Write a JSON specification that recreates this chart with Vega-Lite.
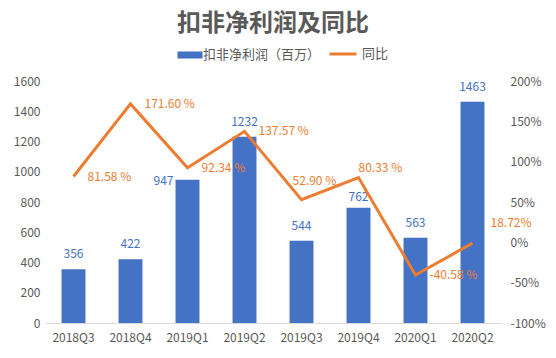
{
  "$schema": "https://vega.github.io/schema/vega-lite/v6.json",
  "width": 456,
  "height": 242,
  "autosize": {"type": "none"},
  "padding": {"left": 45, "top": 81, "right": 55, "bottom": 35},
  "background": "white",
  "config": {
    "font": "Noto Sans CJK SC",
    "view": {"stroke": null},
    "axis": {"labelOverlap": false}
  },
  "title": {
    "text": "扣非净利润及同比",
    "fontSize": 24,
    "fontWeight": "bold",
    "color": "#595959",
    "anchor": "middle",
    "frame": "group",
    "offset": 3
  },
  "data": {
    "values": [
      {"q": "2018Q3", "profit": 356, "yoy": 81.58, "label": "81.58 %", "s1": "扣非净利润（百万）", "s2": "同比"},
      {"q": "2018Q4", "profit": 422, "yoy": 171.60, "label": "171.60 %", "s1": "扣非净利润（百万）", "s2": "同比"},
      {"q": "2019Q1", "profit": 947, "yoy": 92.34, "label": "92.34 %", "s1": "扣非净利润（百万）", "s2": "同比"},
      {"q": "2019Q2", "profit": 1232, "yoy": 137.57, "label": "137.57 %", "s1": "扣非净利润（百万）", "s2": "同比"},
      {"q": "2019Q3", "profit": 544, "yoy": 52.90, "label": "52.90 %", "s1": "扣非净利润（百万）", "s2": "同比"},
      {"q": "2019Q4", "profit": 762, "yoy": 80.33, "label": "80.33 %", "s1": "扣非净利润（百万）", "s2": "同比"},
      {"q": "2020Q1", "profit": 563, "yoy": -40.58, "label": "-40.58 %", "s1": "扣非净利润（百万）", "s2": "同比"},
      {"q": "2020Q2", "profit": 1463, "yoy": -1, "label": "18.72%", "s1": "扣非净利润（百万）", "s2": "同比"}
    ]
  },
  "encoding": {
    "x": {
      "field": "q",
      "type": "nominal",
      "sort": null,
      "scale": {"paddingInner": 0.58, "paddingOuter": 0.29},
      "axis": {
        "title": null,
        "labelAngle": 0,
        "labelFontSize": 12,
        "labelColor": "#595959",
        "labelPadding": 9,
        "ticks": false,
        "domainColor": "#d9d9d9",
        "domainWidth": 1
      }
    }
  },
  "layer": [
    {
      "encoding": {
        "y": {
          "field": "profit",
          "type": "quantitative",
          "scale": {"domain": [0, 1600], "nice": false},
          "axis": {
            "title": null,
            "values": [0, 200, 400, 600, 800, 1000, 1200, 1400, 1600],
            "format": "d",
            "labelOverlap": false,
            "labelSeparation": 0,
            "grid": false,
            "domain": false,
            "ticks": false,
            "labelFontSize": 12,
            "labelColor": "#595959",
            "labelPadding": 5
          }
        }
      },
      "layer": [
        {
          "mark": {"type": "bar"},
          "encoding": {
            "fill": {
              "field": "s1",
              "type": "nominal",
              "scale": {"range": ["#4472C4"]},
              "legend": {
                "title": null,
                "orient": "none",
                "legendX": 137,
                "legendY": -34,
                "symbolType": "M-1.6,-0.45L1.6,-0.45L1.6,0.45L-1.6,0.45Z",
                "symbolSize": 245,
                "symbolStrokeWidth": 0,
                "labelFontSize": 13,
                "labelColor": "#595959",
                "labelOffset": 5
              }
            }
          }
        },
        {
          "transform": [{"filter": "datum.q !== '2019Q1' && datum.q !== '2019Q4'"}],
          "mark": {"type": "text", "dy": -15, "fontSize": 12, "color": "#4472C4"},
          "encoding": {
            "text": {"field": "profit", "type": "quantitative"}
          }
        },
        {
          "transform": [{"filter": "datum.q === '2019Q4'"}],
          "mark": {"type": "text", "dy": -11, "fontSize": 12, "color": "#4472C4"},
          "encoding": {
            "text": {"field": "profit", "type": "quantitative"}
          }
        },
        {
          "transform": [{"filter": "datum.q === '2019Q1'"}],
          "mark": {"type": "text", "dx": -24, "dy": 1, "fontSize": 12, "color": "#4472C4"},
          "encoding": {
            "text": {"field": "profit", "type": "quantitative"}
          }
        }
      ]
    },
    {
      "encoding": {
        "y": {
          "field": "yoy",
          "type": "quantitative",
          "scale": {"domain": [-100, 200], "nice": false},
          "axis": {
            "orient": "right",
            "title": null,
            "values": [-100, -50, 0, 50, 100, 150, 200],
            "labelExpr": "datum.value + '%'",
            "labelOverlap": false,
            "grid": false,
            "domain": false,
            "ticks": false,
            "labelFontSize": 12,
            "labelColor": "#595959",
            "labelPadding": 9
          }
        }
      },
      "layer": [
        {
          "mark": {"type": "line", "strokeWidth": 3, "color": "#ED7D31"},
          "encoding": {
            "stroke": {
              "field": "s2",
              "type": "nominal",
              "scale": {"range": ["#ED7D31"]},
              "legend": {
                "title": null,
                "orient": "none",
                "legendX": 283,
                "legendY": -42,
                "symbolType": "stroke",
                "symbolSize": 729,
                "symbolStrokeWidth": 3,
                "labelFontSize": 13,
                "labelColor": "#595959",
                "labelOffset": 4
              }
            }
          }
        },
        {
          "transform": [{"filter": "datum.q !== '2019Q3' && datum.q !== '2019Q4' && datum.q !== '2020Q2'"}],
          "mark": {"type": "text", "align": "left", "dx": 14, "dy": 0, "fontSize": 12, "color": "#ED7D31"},
          "encoding": {
            "text": {"field": "label", "type": "nominal"}
          }
        },
        {
          "transform": [{"filter": "datum.q === '2019Q3'"}],
          "mark": {"type": "text", "align": "left", "dx": -9, "dy": -19, "fontSize": 12, "color": "#ED7D31"},
          "encoding": {
            "text": {"field": "label", "type": "nominal"}
          }
        },
        {
          "transform": [{"filter": "datum.q === '2019Q4'"}],
          "mark": {"type": "text", "align": "left", "dx": 0, "dy": -10, "fontSize": 12, "color": "#ED7D31"},
          "encoding": {
            "text": {"field": "label", "type": "nominal"}
          }
        },
        {
          "transform": [{"filter": "datum.q === '2020Q2'"}],
          "mark": {"type": "text", "align": "left", "dx": 18, "dy": -20, "fontSize": 12, "color": "#ED7D31"},
          "encoding": {
            "text": {"field": "label", "type": "nominal"}
          }
        }
      ]
    }
  ],
  "resolve": {"scale": {"y": "independent", "fill": "independent", "stroke": "independent"}}
}
